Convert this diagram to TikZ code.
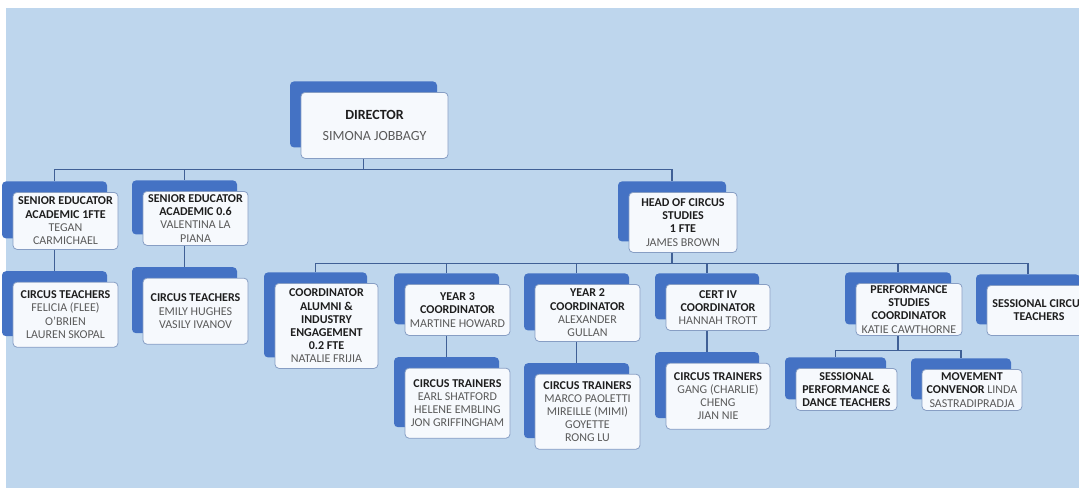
\documentclass[tikz,border=0pt]{standalone}
\usepackage{fontspec}
\setmainfont{Carlito}
\usepackage{tikz}
\usetikzlibrary{positioning, shadows}

\definecolor{bgblue}{RGB}{190,214,237}
\definecolor{boxblue}{RGB}{68,114,196}
\definecolor{boxedge}{RGB}{135,158,196}
\definecolor{boxfill}{RGB}{246,249,253}
\definecolor{linkblue}{RGB}{64,96,150}
\definecolor{roletext}{RGB}{30,30,30}
\definecolor{nametext}{RGB}{90,90,90}

\newcommand{\role}[1]{\textbf{\textcolor{roletext}{#1}}}

\begin{document}
\begin{tikzpicture}[x=1pt, y=-1pt,
	post/.style={draw=boxedge, line width=0.8pt, fill=boxfill, rounded corners=4pt,
		general shadow={fill=boxblue, shadow xshift=-11pt, shadow yshift=11pt},
		align=center, inner sep=0pt, anchor=north, text=nametext,
		font=\fontsize{12}{13.2}\selectfont},
	box/.style 2 args={minimum width=#1pt, minimum height=#2pt},
	link/.style={draw=linkblue, line width=1.2pt},
	node distance=32pt]

\useasboundingbox (0,0) rectangle (1079,488);
\clip (0,0) rectangle (1079,488);
\fill [white] (0,0) rectangle (1079,488);
\fill [bgblue] (6,8) rectangle (1079,488);

\node [post, box={147}{66}, font=\fontsize{14}{21}\selectfont] (1) at (374.5,92) {
	\role{DIRECTOR} \\
	SIMONA JOBBAGY
};

\node [post, box={105}{57}] (2) at (65.5,192) {
	\role{SENIOR EDUCATOR} \\
	\role{ACADEMIC 1FTE} \\
	TEGAN \\
	CARMICHAEL
};

\node [post, box={105}{54}] (3) at (195.5,191) {
	\role{SENIOR EDUCATOR} \\
	\role{ACADEMIC 0.6} \\
	VALENTINA LA \\
	PIANA
};

\node [post, box={108}{60}] (4) at (683,192) {
	\role{HEAD OF CIRCUS} \\
	\role{STUDIES} \\
	\role{1 FTE} \\
	JAMES BROWN
};

\node [post, box={105}{65}, below=of 2] (5) {
	\role{CIRCUS TEACHERS} \\
	FELICIA (FLEE) \\
	O'BRIEN \\
	LAUREN SKOPAL
};

\node [post, box={105}{66}, below=of 3] (6) {
	\role{CIRCUS TEACHERS} \\
	EMILY HUGHES \\
	VASILY IVANOV
};

\node [post, box={103}{85}] (7) at (326.5,283) {
	\role{COORDINATOR} \\
	\role{ALUMNI \&} \\
	\role{INDUSTRY} \\
	\role{ENGAGEMENT} \\
	\role{0.2 FTE} \\
	NATALIE FRIJIA
};

\node [post, box={105}{51}] (8) at (457.5,284) {
	\role{YEAR 3} \\
	\role{COORDINATOR} \\
	MARTINE HOWARD
};

\node [post, box={105}{57}] (9) at (587.5,284) {
	\role{YEAR 2} \\
	\role{COORDINATOR} \\
	ALEXANDER \\
	GULLAN
};

\node [post, box={104}{46}] (10) at (718,284) {
	\role{CERT IV} \\
	\role{COORDINATOR} \\
	HANNAH TROTT
};

\node [post, box={106}{52}] (11) at (909,283) {
	\role{PERFORMANCE} \\
	\role{STUDIES} \\
	\role{COORDINATOR} \\
	KATIE CAWTHORNE
};

\node [post, box={104}{50}] (12) at (1039,285) {
	\role{SESSIONAL CIRCUS} \\
	\role{TEACHERS}
};

\node [post, box={105}{70}, below=of 8] (13) {
	\role{CIRCUS TRAINERS} \\
	EARL SHATFORD \\
	HELENE EMBLING \\
	JON GRIFFINGHAM
};

\node [post, box={105}{75}, below=of 9] (14) {
	\role{CIRCUS TRAINERS} \\
	MARCO PAOLETTI \\
	MIREILLE (MIMI) \\
	GOYETTE \\
	RONG LU
};

\node [post, box={104}{66}, below=of 10] (15) {
	\role{CIRCUS TRAINERS} \\
	GANG (CHARLIE) \\
	CHENG \\
	JIAN NIE
};

\node [post, box={101}{42}] (16) at (846.5,368) {
	\role{SESSIONAL} \\
	\role{PERFORMANCE \&} \\
	\role{DANCE TEACHERS}
};

\node [post, box={100}{41}] (17) at (972,369) {
	\role{MOVEMENT} \\
	\role{CONVENOR} LINDA \\
	SASTRADIPRADJA
};

\coordinate [below left=11pt and 11pt of 1.south] (b1);
\coordinate [below left=11pt and 11pt of 4.south] (b2);
\coordinate [below left=15pt and 11pt of 11.south] (b3);

\path [link] ([xshift=-11pt]1.south) -- (b1);
\foreach \c in {2,3,4}
	\path [link] (b1) -| ([shift={(-11pt,11pt)}]\c.north);

\path [link] ([xshift=-11pt]4.south) -- (b2);
\foreach \c in {7,8,9,10,11,12}
	\path [link] (b2) -| ([shift={(-11pt,11pt)}]\c.north);

\path [link] ([xshift=-11pt]11.south) -- (b3);
\foreach \c in {16,17}
	\path [link] (b3) -| ([shift={(-11pt,11pt)}]\c.north);

\path [link] ([xshift=-11pt]2.south) -- ([shift={(-11pt,11pt)}]5.north);
\path [link] ([xshift=-11pt]3.south) -- ([shift={(-11pt,11pt)}]6.north);
\path [link] ([xshift=-11pt]8.south) -- ([shift={(-11pt,11pt)}]13.north);
\path [link] ([xshift=-11pt]9.south) -- ([shift={(-11pt,11pt)}]14.north);
\path [link] ([xshift=-11pt]10.south) -- ([shift={(-11pt,11pt)}]15.north);

\end{tikzpicture}
\end{document}
